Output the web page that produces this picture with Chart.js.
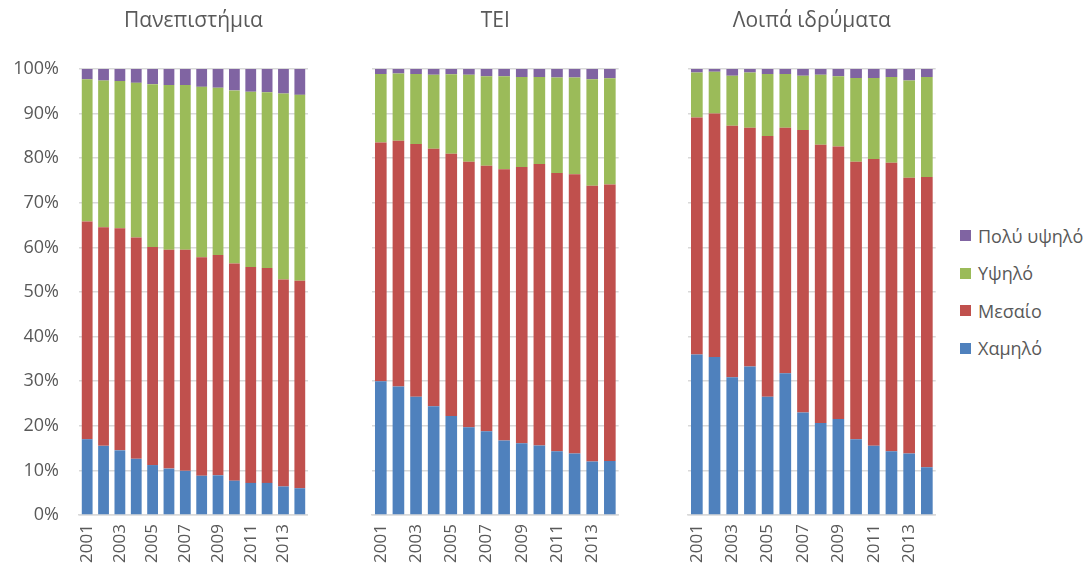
<!DOCTYPE html>
<html lang="el">
<head>
    <meta charset="UTF-8">
    <title>Κατανομή ανά επίπεδο</title>
    <script src="https://cdn.jsdelivr.net/npm/chart.js"></script>
    <style>
        body { margin: 0; background: #fff; width: 1091px; height: 574px; position: relative; overflow: hidden; font-family: "Open Sans", sans-serif; }
        .panel { position: absolute; top: 0; }
        #legend { position: absolute; left: 960px; top: 217px; color: #595959; font-size: 18px; }
        #legend div { height: 37.5px; display: flex; align-items: center; }
        #legend span.box { width: 11px; height: 11px; margin-right: 7px; display: inline-block; }
    </style>
</head>
<body>
    <div class="panel" style="left:0px"><canvas id="c1" width="330" height="574"></canvas></div>
    <div class="panel" style="left:340px"><canvas id="c2" width="300" height="574"></canvas></div>
    <div class="panel" style="left:660px"><canvas id="c3" width="297" height="574"></canvas></div>
    <div id="legend"></div>

    <script>
        // Data (shares in %)
        const years = ["2001","2002","2003","2004","2005","2006","2007","2008","2009","2010","2011","2012","2013","2014"];
        const seriesNames = ["Χαμηλό", "Μεσαίο", "Υψηλό", "Πολύ υψηλό"];
        const seriesColors = ["#4F81BD", "#C0504D", "#9BBB59", "#8064A2"];
        const panelTitles = ["Πανεπιστήμια", "ΤΕΙ", "Λοιπά ιδρύματα"];
        const yTicks = [0, 10, 20, 30, 40, 50, 60, 70, 80, 90, 100];

        // Πανεπιστήμια
        const uniLow      = [17.0, 15.5, 14.5, 12.6, 11.2, 10.4, 9.9, 8.8, 8.9, 7.7, 7.2, 7.2, 6.4, 6.0];
        const uniMid      = [48.8, 49.0, 49.8, 49.6, 48.9, 49.1, 49.6, 49.0, 49.4, 48.7, 48.4, 48.2, 46.4, 46.5];
        const uniHigh     = [31.9, 32.9, 33.0, 34.7, 36.5, 36.9, 36.9, 38.2, 37.5, 38.8, 39.3, 39.4, 41.7, 41.7];
        const uniVeryHigh = [2.3, 2.6, 2.7, 3.1, 3.4, 3.6, 3.6, 4.0, 4.2, 4.8, 5.1, 5.2, 5.5, 5.8];

        // ΤΕΙ
        const teiLow      = [30.0, 28.8, 26.5, 24.4, 22.2, 19.7, 18.8, 16.7, 16.1, 15.6, 14.3, 13.8, 12.0, 12.1];
        const teiMid      = [53.5, 55.1, 56.7, 57.7, 58.8, 59.5, 59.5, 60.8, 61.9, 63.1, 62.4, 62.6, 61.8, 62.0];
        const teiHigh     = [15.4, 15.1, 15.7, 16.6, 17.8, 19.5, 20.1, 20.9, 20.2, 19.5, 21.4, 21.7, 23.9, 23.8];
        const teiVeryHigh = [1.1, 1.0, 1.1, 1.3, 1.2, 1.3, 1.6, 1.6, 1.8, 1.8, 1.9, 1.9, 2.3, 2.1];

        // Λοιπά ιδρύματα
        const otherLow      = [36.0, 35.4, 30.9, 33.3, 26.5, 31.8, 23.0, 20.6, 21.5, 17.0, 15.5, 14.3, 13.8, 10.7];
        const otherMid      = [53.1, 54.6, 56.4, 53.5, 58.5, 55.0, 63.3, 62.4, 61.1, 62.2, 64.3, 64.7, 61.8, 65.1];
        const otherHigh     = [10.1, 9.4, 11.2, 12.4, 13.9, 12.1, 12.2, 15.7, 15.8, 18.8, 18.2, 19.2, 21.8, 22.4];
        const otherVeryHigh = [0.8, 0.6, 1.5, 0.8, 1.1, 1.1, 1.5, 1.3, 1.6, 2.0, 2.0, 1.8, 2.6, 1.8];

        const panelData = [
            [uniLow, uniMid, uniHigh, uniVeryHigh],
            [teiLow, teiMid, teiHigh, teiVeryHigh],
            [otherLow, otherMid, otherHigh, otherVeryHigh]
        ];

        const textColor = "#595959";
        const gridColor = "#D9D9D9";
        const fontFamily = "'Open Sans', sans-serif";

        // y axis width per panel, so that the plot areas sit where they should
        const yWidths = [79, 32, 28];

        function makeChart(canvasId, idx) {
            const datasets = panelData[idx].map((vals, i) => ({
                label: seriesNames[i],
                data: vals,
                backgroundColor: seriesColors[i],
                borderWidth: 0,
                barPercentage: 0.66,
                categoryPercentage: 1.0
            }));

            return new Chart(document.getElementById(canvasId), {
                type: "bar",
                data: { labels: years, datasets: datasets },
                options: {
                    responsive: false,
                    animation: false,
                    layout: { padding: { right: 17 } },
                    plugins: {
                        legend: { display: false },
                        tooltip: { enabled: false },
                        title: {
                            display: true,
                            text: panelTitles[idx],
                            fullSize: false,
                            color: textColor,
                            font: { family: fontFamily, size: 21, weight: "normal" },
                            padding: { top: 8, bottom: 35.8 }
                        }
                    },
                    scales: {
                        x: {
                            stacked: true,
                            grid: { display: false, drawTicks: false },
                            border: { display: true, color: gridColor, width: 1.5 },
                            ticks: {
                                autoSkip: false,
                                minRotation: 90,
                                maxRotation: 90,
                                padding: 9,
                                color: textColor,
                                font: { family: fontFamily, size: 17 },
                                callback: function (value, index) {
                                    return index % 2 === 0 ? years[index] : "";
                                }
                            },
                            afterFit: function (scale) { scale.height = 59; }
                        },
                        y: {
                            stacked: true,
                            min: 0,
                            max: 100,
                            afterBuildTicks: function (scale) {
                                scale.ticks = yTicks.map(v => ({ value: v }));
                            },
                            grid: { color: gridColor, lineWidth: 1.5, drawTicks: false },
                            border: { display: false },
                            ticks: {
                                display: idx === 0,
                                padding: 20,
                                color: textColor,
                                font: { family: fontFamily, size: 18 },
                                callback: function (value) { return value + "%"; }
                            },
                            afterFit: function (scale) { scale.width = yWidths[idx]; }
                        }
                    }
                }
            });
        }

        makeChart("c1", 0);
        makeChart("c2", 1);
        makeChart("c3", 2);

        // legend, top entry first like the original
        const legendEl = document.getElementById("legend");
        for (let i = seriesNames.length - 1; i >= 0; i--) {
            const row = document.createElement("div");
            row.innerHTML = '<span class="box" style="background:' + seriesColors[i] + '"></span>' + seriesNames[i];
            legendEl.appendChild(row);
        }
    </script>
</body>
</html>
